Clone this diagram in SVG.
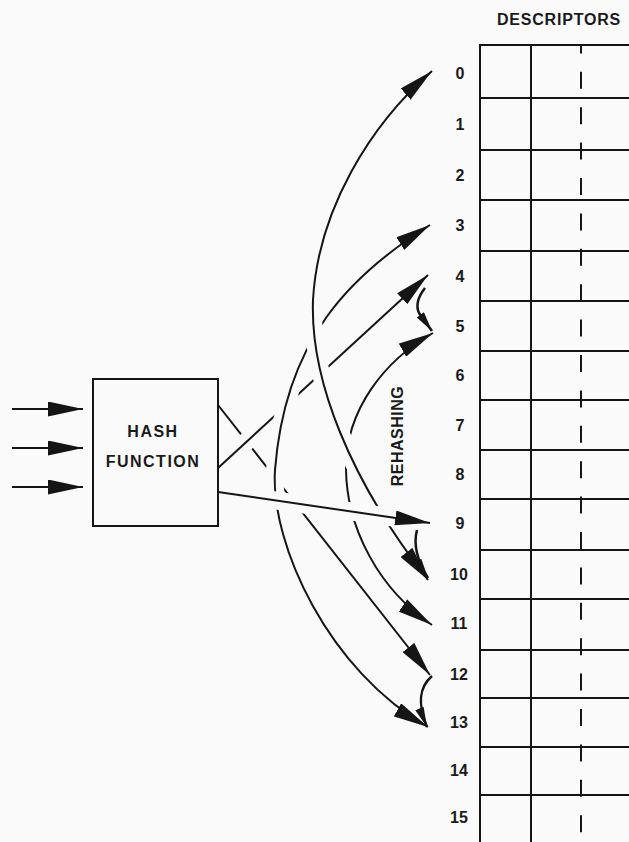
<svg xmlns="http://www.w3.org/2000/svg" width="629" height="842" viewBox="0 0 629 842">
<style>
  .bg{fill:#fafafa}
  .ln{fill:none;stroke:#151515;stroke-width:2}
  .cs{fill:none;stroke:#fafafa;stroke-width:18}
  .ar{marker-end:url(#ah)}
  .ar2{marker-start:url(#ah);marker-end:url(#ah)}
  .hk{fill:none;stroke:#151515;stroke-width:2.5;marker-end:url(#hk)}
  .tb{fill:none;stroke:#151515;stroke-width:2}
  .txt{font-family:"Liberation Sans",Arial,sans-serif;font-weight:bold;font-size:16px;fill:#1a1a1a}
  .num{text-anchor:middle}
</style>
<defs>
  <marker id="ah" viewBox="0 0 35 15" refX="35" refY="7.5" markerWidth="35" markerHeight="15" markerUnits="userSpaceOnUse" orient="auto-start-reverse">
    <path d="M0,0 L35,7.5 L0,15 Z" fill="#151515"/>
  </marker>
  <marker id="hk" viewBox="0 0 20 9" refX="20" refY="4.5" markerWidth="20" markerHeight="9" markerUnits="userSpaceOnUse" orient="auto">
    <path d="M0,0 L20,4.5 L0,9 Z" fill="#151515"/>
  </marker>
</defs>
<rect class="bg" x="0" y="0" width="629" height="842"/>

<g id="connectors">
  <!-- inputs -->
  <line class="ln ar" x1="12" y1="409" x2="83" y2="409"/>
  <line class="ln ar" x1="12" y1="448" x2="83" y2="448"/>
  <line class="ln ar" x1="12" y1="487" x2="83" y2="487"/>
  <!-- hash to 12 (bottom layer) -->
  <path class="ln ar" d="M218,405 L430,675"/>
  <!-- hash to 4 -->
  <path class="cs" d="M222,464 L420,282"/>
  <path class="ln ar" d="M218,468 L428,275"/>
  <!-- rehash arc 3 <-> 13 -->
  <path class="cs" d="M430,225 C350,275 285,340 275,470 C270,545 330,672 428,727"/>
  <path class="ln ar2" d="M430,225 C350,275 285,340 275,470 C270,545 330,672 428,727"/>
  <!-- rehash arc 5 <-> 11 -->
  <path class="ln ar2" d="M433,333 C385,360 345,410 346,470 C347,530 380,590 432,625"/>
  <!-- rehash arc 0 <-> 10 -->
  <path class="cs" d="M432,71 C370,125 318,210 313,300 C310,380 350,480 428,580"/>
  <path class="ln ar2" d="M432,71 C370,125 318,210 313,300 C310,380 350,480 428,580"/>
  <!-- hash to 9 (top layer) -->
  <path class="cs" d="M228,493.5 L400,518.5"/>
  <path class="ln ar" d="M218,492 L430,523"/>
  <!-- hooks -->
  <path class="hk" d="M425,288 Q414,302 419,313 L432,331"/>
  <path class="hk" d="M417,530 C413,545 418,562 428,578"/>
  <path class="hk" d="M432,676 C418,688 418,705 427,727"/>
</g>

<g id="hash-function">
  <rect class="tb" x="93" y="379" width="125" height="147"/>
  <text class="txt num" x="153" y="437" letter-spacing="1.5">HASH</text>
  <text class="txt num" x="153" y="467" letter-spacing="1.5">FUNCTION</text>
</g>

<g id="rehashing-label">
  <text class="txt num" transform="translate(403,436) rotate(-90)" font-size="17" letter-spacing="0.5">REHASHING</text>
</g>

<g id="descriptors">
  <text class="txt num" x="559" y="25" letter-spacing="0.8">DESCRIPTORS</text>
  <line class="tb" x1="480" y1="45" x2="480" y2="842"/>
  <line class="tb" x1="531" y1="45" x2="531" y2="842"/>
  <line class="tb" x1="581" y1="45" x2="581" y2="842" stroke-width="2.5" stroke-dasharray="17 18.4" stroke-dashoffset="8.6"/>
  <path class="tb" d="M479,45 H629 M480,98 H629 M480,150 H629 M480,200 H629 M480,251 H629 M480,301 H629 M480,351 H629 M480,400 H629 M480,450 H629 M480,499 H629 M480,550 H629 M480,599 H629 M480,650 H629 M480,698 H629 M480,747 H629 M480,795 H629"/>
</g>

<g id="row-labels" class="txt num">
  <text x="460" y="79">0</text>
  <text x="460" y="130">1</text>
  <text x="460" y="181">2</text>
  <text x="460" y="231">3</text>
  <text x="460" y="282">4</text>
  <text x="460" y="332">5</text>
  <text x="460" y="381">6</text>
  <text x="460" y="431">7</text>
  <text x="460" y="480">8</text>
  <text x="460" y="529">9</text>
  <text x="459" y="580">10</text>
  <text x="459" y="629">11</text>
  <text x="459" y="680">12</text>
  <text x="459" y="728">13</text>
  <text x="459" y="776">14</text>
  <text x="459" y="823">15</text>
</g>
</svg>
